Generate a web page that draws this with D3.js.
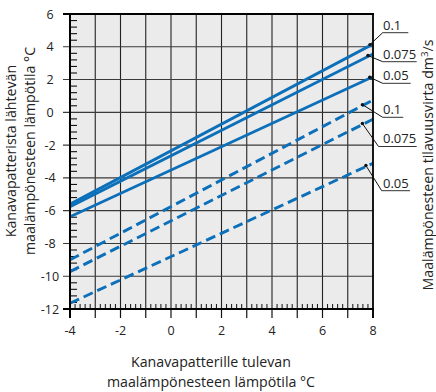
<!DOCTYPE html>
<html><head><meta charset="utf-8">
<script src="https://cdn.jsdelivr.net/npm/d3@7"></script>
<style>
html,body{margin:0;padding:0;background:#fff;}
svg{display:block;font-family:"Open Sans",sans-serif;}
</style></head>
<body>
<svg id="c" width="436" height="392"></svg>
<script>
// ---- data ----
const xEnds = [-4, 8];
const flowLabels = ["0.1", "0.075", "0.05"];
const solidValues = [[-5.6, 4.17], [-5.76, 3.56], [-6.37, 2.17]];
const dashedValues = [[-9.0, 0.75], [-9.72, -0.42], [-11.65, -3.11]];
const xTickValues = [-4, -2, 0, 2, 4, 6, 8];
const xTickLabels = ["-4", "-2", "0", "2", "4", "6", "8"];
const yTickValues = [6, 4, 2, 0, -2, -4, -6, -8, -10, -12];
const yTickLabels = ["6", "4", "2", "0", "-2", "-4", "-6", "-8", "-10", "-12"];
const solidAnchorX = [7.88, 7.8, 7.87];
const dashedAnchorX = [7.58, 7.58, 7.72];

// ---- layout ----
const svg = d3.select("#c");
const x = d3.scaleLinear().domain([-4, 8]).range([70, 373]);
const y = d3.scaleLinear().domain([-12, 6]).range([309, 14]);
const blue = "#0b6fba";

// determine title font size so the long title is ~212px wide
const probe = svg.append("text").attr("font-size", 13).text("maalämpönesteen lämpötila °C");
const probeW = probe.node().getComputedTextLength();
probe.remove();
const titleSize = Math.max(12, Math.min(14.2, 13 * 212 / probeW));

svg.append("defs").append("clipPath").attr("id", "clip")
  .append("rect").attr("x", 70).attr("y", 14).attr("width", 303).attr("height", 295);

svg.append("rect").attr("x", 70).attr("y", 14).attr("width", 303).attr("height", 295).attr("fill", "#ebebeb");

// vertical grid
svg.append("g").selectAll("line").data(d3.range(-3, 8)).join("line")
  .attr("x1", d => x(d)).attr("x2", d => x(d)).attr("y1", 14).attr("y2", 309)
  .attr("stroke", "#222").attr("stroke-width", 1.1);
// horizontal grid (extend left as major ticks)
svg.append("g").selectAll("line").data(d3.range(-10, 5, 2)).join("line")
  .attr("x1", 63).attr("x2", 373).attr("y1", d => y(d)).attr("y2", d => y(d))
  .attr("stroke", "#3a3a3a").attr("stroke-width", 1.1);

// minor ticks bottom (every 0.2, inward)
const minorX = d3.range(-4, 8.001, 0.2).filter(v => Math.abs(v - Math.round(v)) > 0.01);
svg.append("g").selectAll("line").data(minorX).join("line")
  .attr("x1", d => x(d)).attr("x2", d => x(d)).attr("y1", 309).attr("y2", 304)
  .attr("stroke", "#111").attr("stroke-width", 1);
// major ticks bottom (outward)
svg.append("g").selectAll("line").data(d3.range(-4, 9)).join("line")
  .attr("x1", d => x(d)).attr("x2", d => x(d)).attr("y1", 309).attr("y2", 318)
  .attr("stroke", "#111").attr("stroke-width", 1.2);
// minor ticks left (every 0.4, inward)
const minorY = d3.range(-12, 6.001, 0.4).filter(v => Math.abs(v / 2 - Math.round(v / 2)) > 0.01);
svg.append("g").selectAll("line").data(minorY).join("line")
  .attr("x1", 70).attr("x2", 77).attr("y1", d => y(d)).attr("y2", d => y(d))
  .attr("stroke", "#111").attr("stroke-width", 1.1);

// lines
const line = d3.line().x((d, i) => x(xEnds[i])).y(d => y(d));
const lg = svg.append("g").attr("clip-path", "url(#clip)");
lg.selectAll("path.s").data(solidValues).join("path").attr("class", "s")
  .attr("d", d => line(d)).attr("fill", "none").attr("stroke", blue).attr("stroke-width", 2.9);
lg.selectAll("path.d").data(dashedValues).join("path").attr("class", "d")
  .attr("d", d => line(d)).attr("fill", "none").attr("stroke", blue).attr("stroke-width", 2.9)
  .attr("stroke-dasharray", "10,5");

// border
svg.append("line").attr("x1", 63).attr("x2", 374).attr("y1", 14).attr("y2", 14).attr("stroke", "#000").attr("stroke-width", 2);
svg.append("line").attr("x1", 63).attr("x2", 374).attr("y1", 309).attr("y2", 309).attr("stroke", "#000").attr("stroke-width", 2);
svg.append("line").attr("x1", 70).attr("x2", 70).attr("y1", 13).attr("y2", 318).attr("stroke", "#000").attr("stroke-width", 2);
svg.append("line").attr("x1", 373).attr("x2", 373).attr("y1", 13).attr("y2", 318).attr("stroke", "#000").attr("stroke-width", 1.8);

// tick labels
svg.append("g").selectAll("text").data(xTickValues).join("text")
  .attr("x", d => x(d)).attr("y", 334.5).attr("text-anchor", "middle")
  .attr("font-size", 12.5).attr("fill", "#222").text((d, i) => xTickLabels[i]);
svg.append("g").selectAll("text").data(yTickValues).join("text")
  .attr("x", 50).attr("y", d => y(d) + 4.5).attr("text-anchor", "middle")
  .attr("font-size", 12.5).attr("fill", "#222").text((d, i) => yTickLabels[i]);

// annotations
const interp = (vals, xv) => vals[0] + (vals[1] - vals[0]) * (xv - xEnds[0]) / (xEnds[1] - xEnds[0]);
const ann = [
  {vals: solidValues[0], ax: solidAnchorX[0], uy: 32.7, ux: 382.7, ul: 25.6, t: flowLabels[0]},
  {vals: solidValues[1], ax: solidAnchorX[1], uy: 61.7, ux: 382.7, ul: 34, t: flowLabels[1]},
  {vals: solidValues[2], ax: solidAnchorX[2], uy: 83.3, ux: 382.7, ul: 28, t: flowLabels[2]},
  {vals: dashedValues[0], ax: dashedAnchorX[0], uy: 117.3, ux: 382.7, ul: 20.6, t: flowLabels[0]},
  {vals: dashedValues[1], ax: dashedAnchorX[1], uy: 146.5, ux: 378.5, ul: 38.2, t: flowLabels[1]},
  {vals: dashedValues[2], ax: dashedAnchorX[2], uy: 190.7, ux: 381.7, ul: 28.3, t: flowLabels[2]}
];
const ag = svg.append("g");
ann.forEach(a => {
  const px = x(a.ax), py = y(interp(a.vals, a.ax)) - 1;
  ag.append("line").attr("x1", px).attr("y1", py).attr("x2", a.ux).attr("y2", a.uy).attr("stroke", "#111").attr("stroke-width", 1);
  ag.append("line").attr("x1", a.ux).attr("y1", a.uy).attr("x2", a.ux + a.ul).attr("y2", a.uy).attr("stroke", "#333").attr("stroke-width", 1);
  ag.append("circle").attr("cx", px).attr("cy", py).attr("r", 1.7).attr("fill", "#111");
  ag.append("text").attr("x", 383).attr("y", a.uy - 3.2).attr("font-size", 13).attr("fill", "#222").text(a.t);
});

// axis titles
const yl = svg.append("text").attr("transform", "translate(16,151) rotate(-90)")
  .attr("text-anchor", "middle").attr("font-size", titleSize).attr("fill", "#222");
yl.append("tspan").attr("x", 0).attr("y", 0).text("Kanavapatterista lähtevän");
yl.append("tspan").attr("x", 0).attr("y", 18.5).text("maalämpönesteen lämpötila °C");

const xl = svg.append("text").attr("text-anchor", "middle").attr("font-size", titleSize).attr("fill", "#222");
xl.append("tspan").attr("x", 211).attr("y", 367).text("Kanavapatterille tulevan");
xl.append("tspan").attr("x", 211).attr("y", 386.5).text("maalämpönesteen lämpötila °C");

const rl = svg.append("text").attr("transform", "translate(432.5,165) rotate(-90)")
  .attr("text-anchor", "middle").attr("font-size", titleSize).attr("fill", "#222");
rl.append("tspan").text("Maalämpönesteen tilavuusvirta dm");
rl.append("tspan").attr("dy", -5).attr("font-size", titleSize * 0.68).text("3");
rl.append("tspan").attr("dy", 5).text("/s");
</script>
</body></html>
